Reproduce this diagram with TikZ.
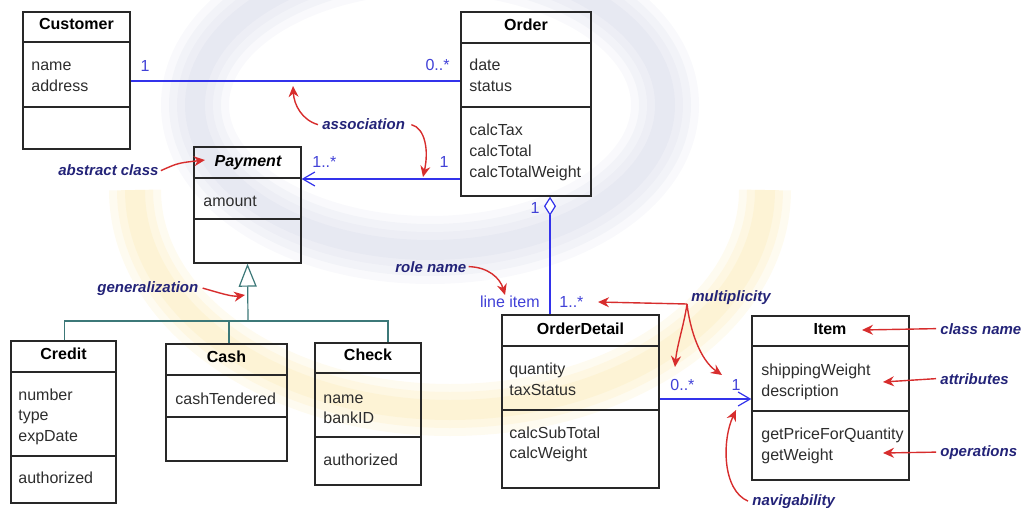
\documentclass[tikz,border=0pt]{standalone}
\usepackage{fontspec}
\setmainfont{Liberation Sans}
\usetikzlibrary{arrows.meta,fit}
\definecolor{assocblue}{RGB}{50,50,235}
\definecolor{multblue}{RGB}{65,65,215}
\definecolor{annnavy}{RGB}{35,35,120}
\definecolor{annred}{RGB}{215,45,45}
\definecolor{genteal}{RGB}{60,120,120}
\definecolor{boxgray}{RGB}{40,40,40}
\definecolor{txtgray}{RGB}{45,45,45}
\definecolor{wmblue}{RGB}{110,120,175}
\definecolor{wmyellow}{RGB}{245,200,60}
\newcommand{\umlclassbox}[7]{%
  \node[umlbox, fit={(#2,#3) (#4,#5)}] (#1) {};
  \draw[umlsep] (#2,#6) -- (#4,#6);
  \draw[umlsep] (#2,#7) -- (#4,#7);
}
\begin{document}
\begin{tikzpicture}[x=0.5pt,y=-0.5pt,
  umlbox/.style={draw=boxgray,line width=0.7pt,inner sep=0pt,rectangle},
  umlsep/.style={draw=boxgray,line width=0.7pt},
  umlattr/.style={anchor=base west,inner sep=0pt,font=\fontsize{8}{10}\selectfont,text=txtgray},
  umltitle/.style={anchor=base,inner sep=0pt,font=\fontsize{8}{10}\selectfont\bfseries,text=black},
  umlmult/.style={inner sep=0pt,font=\fontsize{8}{10}\selectfont,text=multblue},
  umlann/.style={anchor=base west,inner sep=0pt,font=\fontsize{7.5}{9}\selectfont\bfseries\itshape,text=annnavy},
  umlassoc/.style={draw=assocblue,line width=0.6pt},
  umlgen/.style={draw=genteal,line width=0.6pt},
  umlarrow/.style={draw=annred,line width=0.7pt,-{Stealth[length=5.5pt,width=5pt]}},
  openhead/.style={-{Straight Barb[length=6pt,width=7pt]}},
]
\useasboundingbox (0,0) rectangle (1022,508);
% watermark (soft)
\foreach \w in {34,26,18,10} {
  \draw[wmblue, opacity=0.045, line width=\w pt] (430,105) ellipse [x radius=235, y radius=145];
}
\foreach \w in {26,18,10} {
  \draw[wmyellow, opacity=0.08, line width=\w pt] (135,190) arc[start angle=180, end angle=0, x radius=315, y radius=220];
}

% classes
\umlclassbox{Customer}{23}{12}{130}{149}{42}{107}
\node[umltitle] (custT) at (76.5,30) {Customer};
\node[umlattr] (custA1) at (31,71) {name};
\node[umlattr] (custA2) at (31,92) {address};

\umlclassbox{Order}{461}{12}{591}{196}{43}{107}
\node[umltitle] (ordT) at (526,31) {Order};
\node[umlattr] (ordA1) at (469,71) {date};
\node[umlattr] (ordA2) at (469,92) {status};
\node[umlattr] (ordO1) at (469,135) {calcTax};
\node[umlattr] (ordO2) at (469,156) {calcTotal};
\node[umlattr] (ordO3) at (469,177) {calcTotalWeight};

\umlclassbox{Payment}{194}{147}{301}{263}{178}{219}
\node[umltitle, font=\fontsize{8}{10}\selectfont\bfseries\itshape] (payT) at (248,166) {Payment};
\node[umlattr] (payA1) at (203,206) {amount};

\umlclassbox{Credit}{11}{341}{116}{503}{372}{456}
\node[umltitle] (credT) at (63.5,359) {Credit};
\node[umlattr] (credA1) at (18,400) {number};
\node[umlattr] (credA2) at (18,420) {type};
\node[umlattr] (credA3) at (18,441) {expDate};
\node[umlattr] (credO1) at (18,483) {authorized};

\umlclassbox{Cash}{166}{344}{287}{461}{375}{417}
\node[umltitle] (cashT) at (226.5,362) {Cash};
\node[umlattr] (cashA1) at (175,404) {cashTendered};

\umlclassbox{Check}{315}{343}{421}{485}{373}{437}
\node[umltitle] (checkT) at (368,360) {Check};
\node[umlattr] (checkA1) at (323,403) {name};
\node[umlattr] (checkA2) at (323,423) {bankID};
\node[umlattr] (checkO1) at (323,465) {authorized};

\umlclassbox{OrderDetail}{502}{315}{659}{488}{346}{410}
\node[umltitle] (odT) at (580.5,334) {OrderDetail};
\node[umlattr] (odA1) at (509,374) {quantity};
\node[umlattr] (odA2) at (509,395) {taxStatus};
\node[umlattr] (odO1) at (509,438) {calcSubTotal};
\node[umlattr] (odO2) at (509,458) {calcWeight};

\umlclassbox{Item}{752}{316}{909}{480}{346}{411}
\node[umltitle] (itemT) at (830,334) {Item};
\node[umlattr] (itemA1) at (761,375) {shippingWeight};
\node[umlattr] (itemA2) at (761,396) {description};
\node[umlattr] (itemO1) at (761,439) {getPriceForQuantity};
\node[umlattr] (itemO2) at (761,460) {getWeight};

% associations
\draw[umlassoc] (Customer.east |- 0,81) -- (Order.west |- 0,81);
\node[umlmult, anchor=base] (m1) at (145,72) {1};
\node[umlmult, anchor=base east] (m2) at (450,71) {0..*};

\draw[umlassoc, openhead] (Order.west |- 0,179) -- (Payment.east |- 0,179);
\node[umlmult, anchor=base west] (m3) at (312,168) {1..*};
\node[umlmult, anchor=base] (m4) at (444,168) {1};

\draw[umlassoc, {Diamond[open,fill=white,length=9.5pt,width=6pt]}-] (Order.south -| 550,0) -- (OrderDetail.north -| 550,0);
\node[umlmult, anchor=base] (m5) at (535,213) {1};
\node[umlmult, anchor=base east] (role) at (540,307) {line item};
\node[umlmult, anchor=base west] (m6) at (559,307) {1..*};

\draw[umlassoc, openhead] (OrderDetail.east |- 0,399) -- (Item.west |- 0,399);
\node[umlmult, anchor=base west] (m7) at (670,390) {0..*};
\node[umlmult, anchor=base] (m8) at (736,390) {1};

% generalization
\coordinate (genj) at (248,321);
\draw[umlgen, -{Triangle[open,fill=white,length=11.5pt,width=9pt]}] (genj) -- (Payment.south);
\draw[umlgen] ([xshift=0.5pt]Credit.north) |- ([xshift=10pt]Check.north |- genj) -- ([xshift=10pt]Check.north);
\draw[umlgen] ([xshift=1.25pt]Cash.north) -- ([xshift=1.25pt]Cash.north |- genj);

% annotations
\node[umlann] (absL) at (58,176) {abstract class};
\node[umlann] (assocL) at (322,130) {association};
\node[umlann] (genL) at (97,292) {generalization};
\node[umlann] (roleL) at (395,272) {role name};
\node[umlann] (multL) at (691,301) {multiplicity};
\node[umlann] (clsL) at (940,334) {class name};
\node[umlann] (attrL) at (940,384) {attributes};
\node[umlann] (opsL) at (940,456) {operations};
\node[umlann] (navL) at (752,505) {navigability};

\draw[umlarrow] ([xshift=1pt]absL.east) .. controls (178,163) .. (205,160);
\draw[umlarrow] ([xshift=-2pt]assocL.west) .. controls (302,120) and (294,105) .. (293,86);
\draw[umlarrow] ([xshift=3pt]assocL.east) .. controls (425,128) and (429,150) .. (423,177);
\draw[umlarrow] ([xshift=2pt]genL.east) .. controls (220,293) and (232,297) .. (245,295);
\draw[umlarrow] ([xshift=1pt]roleL.east) .. controls (488,267) and (500,278) .. (505,295);
\coordinate (mj) at (687,304);
\draw[umlarrow] (mj) -- (598,302);
\draw[umlarrow] (mj) .. controls (684,325) and (677,345) .. (675,367);
\draw[umlarrow] (mj) .. controls (690,330) and (700,360) .. (722,375);
\draw[umlarrow] ([xshift=-2pt]clsL.west) -- (862,330);
\draw[umlarrow] ([xshift=-2pt]attrL.west) -- (883,382);
\draw[umlarrow] ([xshift=-2pt]opsL.west) -- (883,453);
\draw[umlarrow] ([xshift=-2pt]navL.west) .. controls (722,490) and (722,440) .. (736,410);
\end{tikzpicture}
\end{document}
